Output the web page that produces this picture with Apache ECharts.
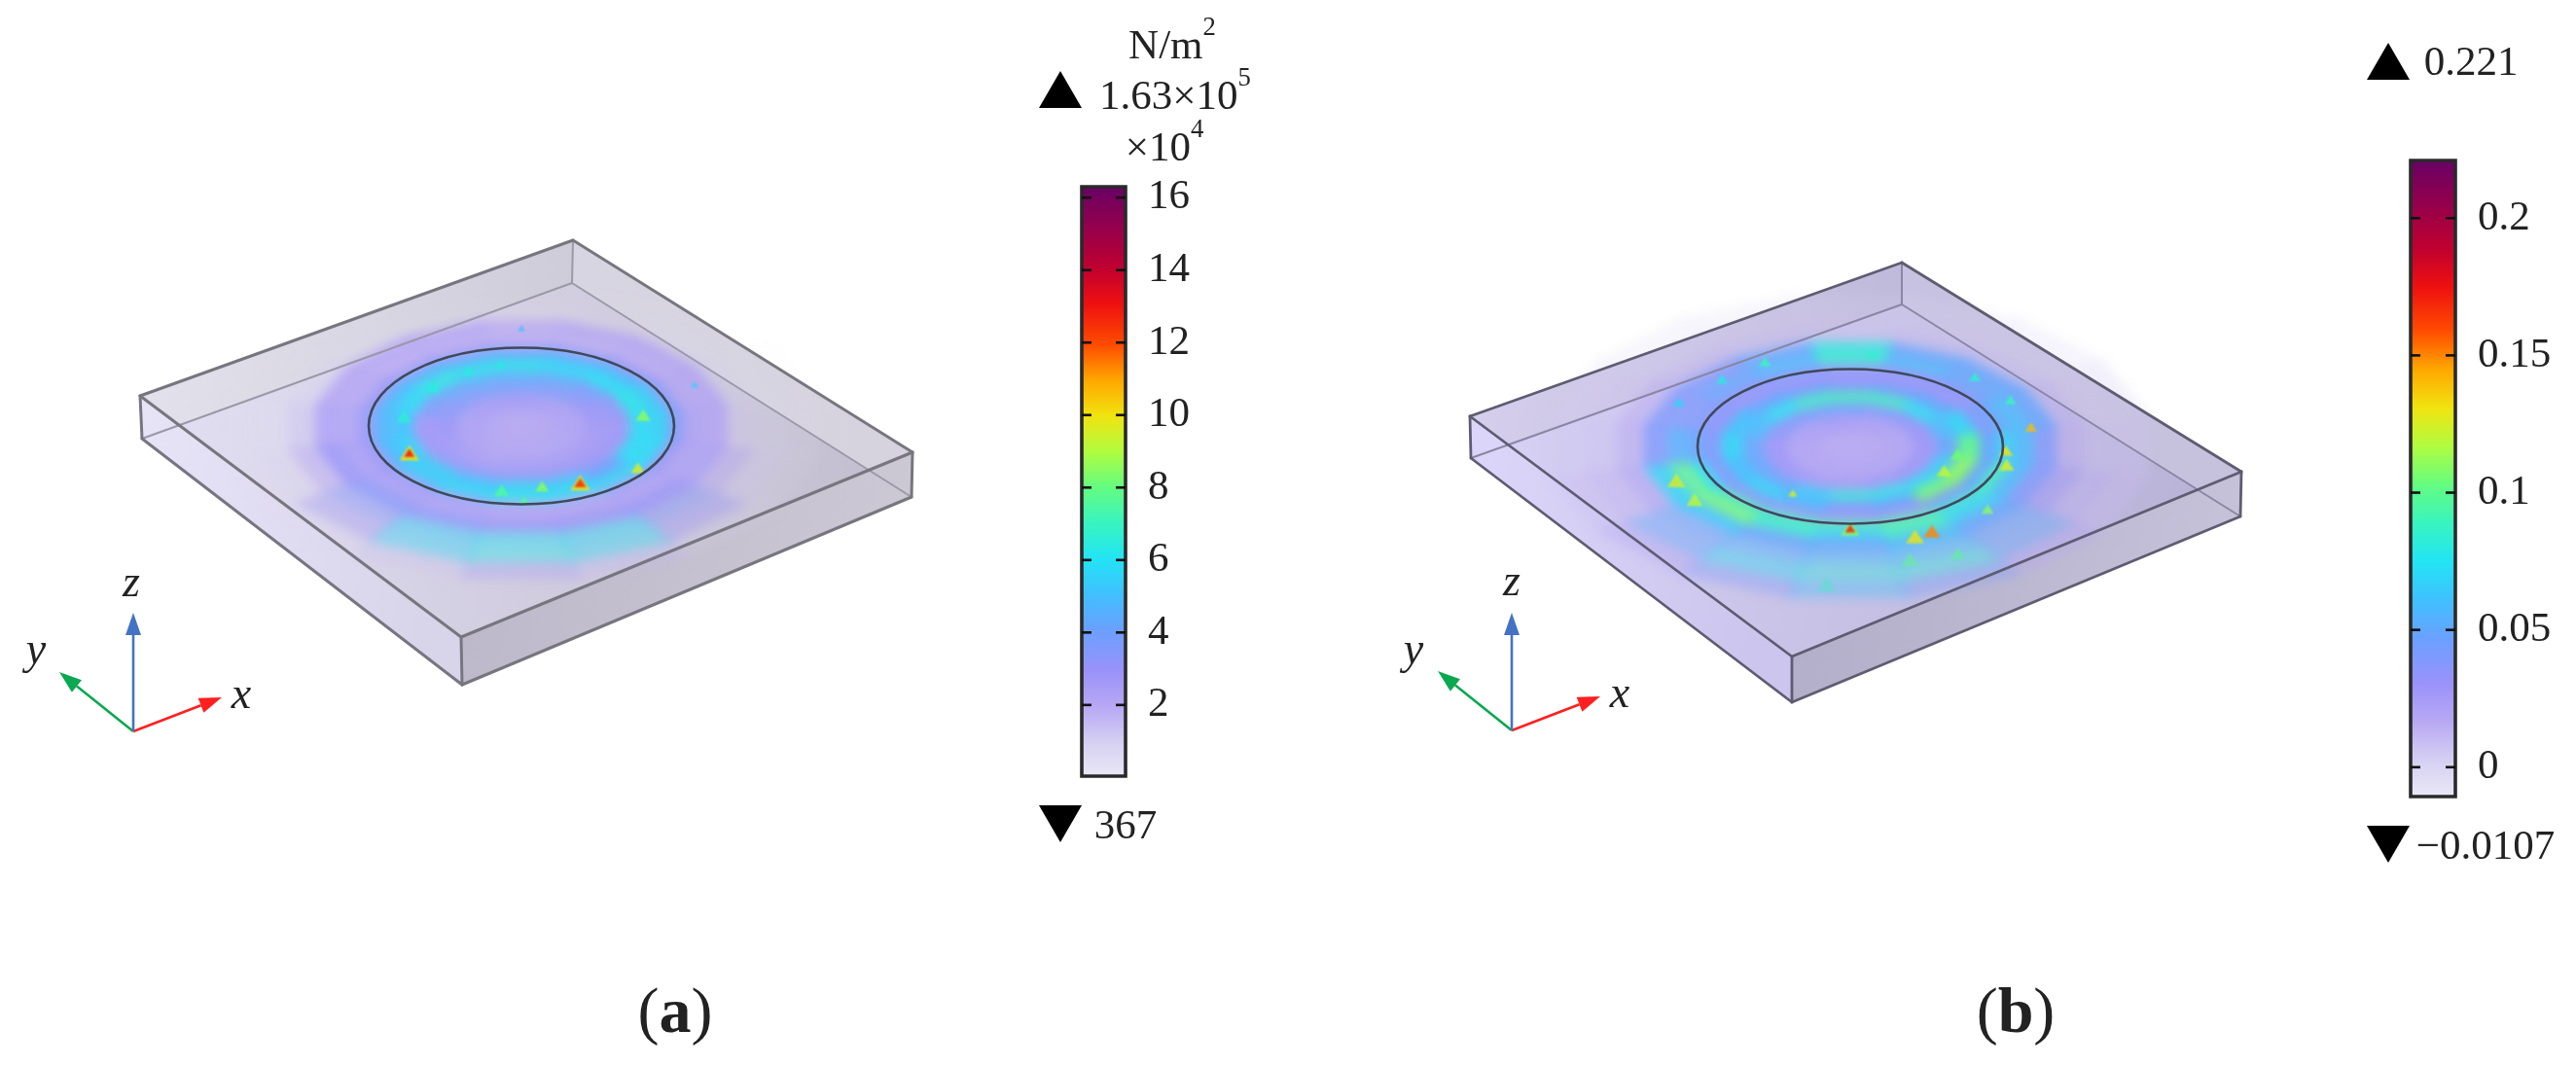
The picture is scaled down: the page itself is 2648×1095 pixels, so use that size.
<!DOCTYPE html>
<html lang="en">
<head>
    <meta charset="UTF-8">
    <title>Plate stress and strain</title>
    <style>
        html, body { margin: 0; background: #fff; }
        .layer { position: absolute; left: 0; top: 0; width: 2648px; height: 1095px; }
        #field { filter: blur(6px); }
        #facets { filter: blur(1.2px); }
        #front { filter: blur(0.6px); }
    </style>
</head>
<body>
<div id="plate" class="layer"></div>
<div id="field" class="layer"></div>
<div id="facets" class="layer"></div>
<div id="front" class="layer"></div>
<script src="https://cdn.jsdelivr.net/npm/echarts@6/dist/echarts.min.js"></script>
<script type="text/javascript">
    // box corners: top A B C D, then bottom A B C D
    const cornersA = [[144, 407], [589, 247], [938, 465], [474, 655], [146, 451], [588, 291], [937, 511], [475, 704]];
    const cornersB = [[1511, 428], [1955, 270], [2304, 485], [1842, 675], [1512, 471], [1955, 313], [2303, 531], [1842, 722]];
    const strongEdges = [[0, 1], [1, 2], [2, 3], [3, 0], [0, 4], [3, 7], [2, 6], [4, 7], [7, 6]];
    const softEdges = [[4, 5], [5, 6], [1, 5]];

    // ring centre and half axes
    const ringA = [536, 438, 157, 80.5];
    const ringB = [1902, 459, 157, 79.5];

    // field rows: radius in ring units, angle counter clockwise from the right
    const rowEdges = [0, 0.22, 0.42, 0.58, 0.72, 0.86, 0.98, 1.08, 1.22, 1.38, 1.56, 1.78, 2.0];
    const sectorAngles = [0, 22.5, 45, 67.5, 90, 112.5, 135, 157.5, 180, 202.5, 225, 247.5, 270, 292.5, 315, 337.5];
    const rowOpacity = [0.85, 0.85, 0.85, 0.85, 0.9, 0.9, 0.85, 0.8, 0.8, 0.5, 0.42, 0.38];

    // (a) stress, x 10^4 N/m2
    const stressField = [
        [2.2, 2.2, 2.2, 2.2, 2.2, 2.2, 2.2, 2.2, 2.2, 2.2, 2.2, 2.2, 2.2, 2.2, 2.2, 2.2],
        [2.4, 2.4, 2.5, 2.6, 2.7, 2.7, 2.6, 2.5, 2.4, 2.4, 2.3, 2.2, 2.2, 2.2, 2.3, 2.3],
        [2.8, 3.0, 3.4, 3.7, 3.8, 3.8, 3.6, 3.4, 3.0, 2.8, 2.6, 2.5, 2.6, 2.6, 2.6, 2.7],
        [2.9, 3.3, 4.0, 4.4, 4.6, 4.6, 4.4, 3.8, 2.9, 2.9, 3.1, 3.2, 3.2, 3.1, 3.0, 2.9],
        [5.8, 6.2, 6.0, 5.8, 6.2, 6.2, 6.4, 5.8, 5.2, 5.6, 5.4, 5.2, 5.6, 5.4, 4.2, 5.8],
        [5.6, 5.4, 5.0, 4.8, 4.6, 4.6, 4.8, 4.9, 4.8, 5.0, 5.4, 5.8, 6.2, 6.0, 5.8, 5.8],
        [3.6, 3.4, 3.0, 2.8, 2.6, 2.6, 2.8, 3.0, 3.2, 3.0, 2.8, 2.6, 2.2, 2.2, 2.6, 3.0],
        [2.4, 2.2, 2.0, 1.9, 1.9, 2.0, 2.0, 2.2, 2.4, 2.6, 2.6, 2.4, 2.4, 2.4, 2.4, 2.4],
        [2.2, 2.2, 2.2, 2.2, 2.0, 2.2, 2.2, 2.2, 2.4, 3.0, 3.4, 3.2, 3.0, 3.0, 3.0, 2.4],
        [1.2, 1.0, 0.8, 0.5, 0.3, 0.4, 0.7, 1.0, 1.4, 2.0, 3.4, 5.4, 5.8, 5.6, 3.4, 2.0],
        [0.6, 0.5, 0.3, 0.2, 0.1, 0.1, 0.2, 0.3, 0.5, 0.9, 2.6, 5.6, 6.2, 5.8, 2.8, 1.2],
        [0.4, 0.2, 0.1, 0.1, 0.1, 0.1, 0.1, 0.1, 0.2, 0.4, 0.6, 1.4, 2.4, 1.6, 0.6, 0.4]
    ];
    // (b) strain
    const strainField = [
        [0.018, 0.018, 0.018, 0.018, 0.018, 0.018, 0.018, 0.018, 0.018, 0.018, 0.018, 0.018, 0.018, 0.018, 0.018, 0.018],
        [0.02, 0.02, 0.022, 0.024, 0.026, 0.026, 0.024, 0.022, 0.02, 0.02, 0.02, 0.02, 0.02, 0.02, 0.02, 0.02],
        [0.03, 0.032, 0.036, 0.04, 0.046, 0.046, 0.04, 0.036, 0.03, 0.03, 0.028, 0.026, 0.026, 0.028, 0.03, 0.03],
        [0.05, 0.06, 0.075, 0.088, 0.09, 0.088, 0.075, 0.06, 0.05, 0.05, 0.05, 0.065, 0.082, 0.078, 0.07, 0.066],
        [0.1, 0.07, 0.05, 0.045, 0.04, 0.045, 0.05, 0.062, 0.07, 0.062, 0.07, 0.06, 0.04, 0.05, 0.105, 0.11],
        [0.05, 0.04, 0.03, 0.03, 0.03, 0.03, 0.03, 0.035, 0.04, 0.04, 0.035, 0.03, 0.03, 0.03, 0.04, 0.05],
        [0.07, 0.05, 0.04, 0.035, 0.035, 0.04, 0.04, 0.04, 0.05, 0.075, 0.09, 0.09, 0.095, 0.095, 0.085, 0.09],
        [0.06, 0.06, 0.05, 0.06, 0.085, 0.06, 0.05, 0.04, 0.055, 0.1, 0.105, 0.085, 0.07, 0.09, 0.07, 0.06],
        [0.04, 0.05, 0.05, 0.05, 0.08, 0.05, 0.04, 0.04, 0.04, 0.07, 0.065, 0.05, 0.05, 0.06, 0.05, 0.04],
        [0.016, 0.014, 0.01, 0.01, 0.008, 0.01, 0.012, 0.016, 0.018, 0.024, 0.05, 0.055, 0.06, 0.06, 0.05, 0.03],
        [0.008, 0.006, 0.004, 0.003, 0.003, 0.003, 0.004, 0.006, 0.008, 0.014, 0.05, 0.072, 0.08, 0.08, 0.05, 0.016],
        [0.008, 0.006, 0.003, 0.002, 0.002, 0.002, 0.002, 0.003, 0.006, 0.01, 0.02, 0.04, 0.06, 0.045, 0.02, 0.01]
    ];

    // sharp mesh facets: radius, angle, value, size
    const facetsA = [
        [0.81, 205, 10, 0.065], [0.81, 205, 13, 0.035], [0.82, 298, 10, 0.065], [0.82, 298, 12.5, 0.04],
        [0.93, 325, 9.5, 0.045], [0.78, 280, 8.5, 0.045], [0.83, 261, 7.5, 0.05], [0.95, 271, 7.5, 0.035],
        [0.81, 10, 8.5, 0.05], [0.78, 171, 6.6, 0.05], [0.8, 100, 6.4, 0.035], [0.77, 139, 6.4, 0.05],
        [0.79, 116, 6.4, 0.04], [1.25, 25, 5.6, 0.025], [1.25, 90, 5, 0.025]
    ];
    const facetsB = [
        [1.06, 270, 0.11, 0.06], [1.06, 270, 0.17, 0.035], [1.22, 296, 0.15, 0.055], [1.24, 290, 0.13, 0.06],
        [1.22, 201, 0.125, 0.06], [1.23, 214, 0.12, 0.055], [1.02, 357, 0.13, 0.045], [1.05, 347, 0.125, 0.05],
        [1.21, 12, 0.14, 0.04], [0.69, 333, 0.12, 0.05], [0.71, 352, 0.105, 0.05], [0.71, 238, 0.125, 0.03],
        [1.21, 318, 0.11, 0.04], [1.51, 285, 0.1, 0.06], [1.55, 297, 0.1, 0.05], [1.79, 265, 0.09, 0.06],
        [1.21, 83, 0.085, 0.04], [1.23, 117, 0.09, 0.04], [1.21, 134, 0.08, 0.04], [1.22, 48, 0.085, 0.04],
        [1.21, 30, 0.09, 0.04], [1.26, 153, 0.07, 0.04]
    ];

    // colour scale, fraction of the bar then colour
    const scalePositions = [0, 0.06, 0.12, 0.18, 0.25, 0.31, 0.37, 0.43, 0.49, 0.55, 0.61, 0.67, 0.73, 0.8, 0.86, 0.93, 1];
    const scaleColors = [
        [235, 233, 246], [213, 208, 242], [184, 168, 244], [154, 146, 250], [106, 160, 255], [64, 192, 255],
        [34, 228, 244], [56, 244, 192], [100, 252, 128], [176, 252, 64], [240, 228, 16], [255, 168, 0],
        [255, 76, 0], [238, 16, 16], [192, 0, 48], [148, 0, 76], [102, 0, 102]
    ];

    const stressTicks = [2, 4, 6, 8, 10, 12, 14, 16];
    const strainTicks = [0, 0.05, 0.1, 0.15, 0.2];
    const stressRange = [0.0367, 16.3];
    const strainRange = [-0.0107, 0.221];

    // triangles beside the bars
    const maxMarkers = [[1090, 92], [2455, 63]];
    const minMarkers = [[1090, 847], [2455, 868]];

    // triads: origin, then x, y and z tips
    const triadA = [[137, 752], [228, 717], [61, 691], [137, 630]];
    const triadB = [[1554, 751], [1645, 716], [1478, 690], [1554, 630]];
    const triadColors = ['#ff1f1f', '#0aa850', '#4472c4'];

    const serif = '"Liberation Serif", serif';

    function polar(ring, r, deg) {
        const t = deg * Math.PI / 180;
        return [ring[0] + r * ring[2] * Math.cos(t), ring[1] - r * ring[3] * Math.sin(t)];
    }

    function scaleColor(f, alpha) {
        f = Math.max(0, Math.min(1, f));
        let i = 0;
        while (i < scalePositions.length - 2 && f > scalePositions[i + 1]) i++;
        const k = (f - scalePositions[i]) / (scalePositions[i + 1] - scalePositions[i]);
        const c = scaleColors[i].map((v, j) => Math.round(v + (scaleColors[i + 1][j] - v) * k));
        return 'rgba(' + c[0] + ',' + c[1] + ',' + c[2] + ',' + alpha + ')';
    }

    function fraction(v, range) {
        return (v - range[0]) / (range[1] - range[0]);
    }

    function opacityAt(r) {
        let i = 0;
        while (i < rowOpacity.length - 1 && r > rowEdges[i + 1]) i++;
        return rowOpacity[i];
    }

    const viewAxes = {
        grid: {left: 0, right: 0, top: 0, bottom: 0},
        xAxis: {type: 'value', min: 0, max: 2648, show: false},
        yAxis: {type: 'value', min: 0, max: 1095, inverse: true, show: false}
    };

    function faceSeries(corners, faces) {
        return {
            type: 'custom',
            coordinateSystem: 'cartesian2d',
            silent: true,
            encode: {x: -1, y: -1},
            data: faces.map((f, i) => [i]),
            renderItem: (params, api) => {
                const f = faces[params.dataIndex];
                return {
                    type: 'polygon',
                    shape: {points: f[0].map(i => api.coord(corners[i]))},
                    style: {fill: new echarts.graphic.LinearGradient(0, 0, 1, 0.3, [
                        {offset: 0, color: f[1]}, {offset: 1, color: f[2]}
                    ])}
                };
            }
        };
    }

    function fieldSeries(ring, table, range) {
        const data = [];
        table.forEach((row, i) => row.forEach((v, j) => data.push([i, j, v])));
        return {
            type: 'custom',
            coordinateSystem: 'cartesian2d',
            silent: true,
            clip: false,
            encode: {x: -1, y: -1},
            data: data,
            renderItem: (params, api) => {
                const i = api.value(0), j = api.value(1), v = api.value(2);
                const a0 = sectorAngles[j] - 11.6, a1 = sectorAngles[j] + 11.6;
                const r0 = rowEdges[i], r1 = rowEdges[i + 1];
                const pts = [[r0, a0], [r1, a0], [r1, a1], [r0, a1]].map(p => api.coord(polar(ring, p[0], p[1])));
                const f = fraction(v, range);
                const alpha = rowOpacity[i] * Math.min(1, f / 0.1);
                return {type: 'polygon', shape: {points: pts}, style: {fill: scaleColor(f, alpha)}};
            }
        };
    }

    function facetSeries(ring, facets, range) {
        return {
            type: 'custom',
            coordinateSystem: 'cartesian2d',
            silent: true,
            clip: false,
            encode: {x: -1, y: -1},
            data: facets,
            renderItem: (params, api) => {
                const r = api.value(0), deg = api.value(1), v = api.value(2), s = api.value(3);
                const c = polar(ring, r, deg);
                const w = s * ring[2], h = s * ring[3] * 1.5;
                const pts = [[c[0], c[1] - h], [c[0] + w, c[1] + h], [c[0] - w, c[1] + h]].map(p => api.coord(p));
                return {
                    type: 'polygon',
                    shape: {points: pts},
                    style: {fill: scaleColor(fraction(v, range), Math.min(0.85, opacityAt(r)))}
                };
            }
        };
    }

    function edgeSeries(corners, edges, color, width, z) {
        return {
            type: 'custom',
            coordinateSystem: 'cartesian2d',
            silent: true,
            data: edges,
            z: z,
            encode: {x: -1, y: -1},
            renderItem: (params, api) => {
                const a = api.coord(corners[api.value(0)]), b = api.coord(corners[api.value(1)]);
                return {
                    type: 'line',
                    shape: {x1: a[0], y1: a[1], x2: b[0], y2: b[1]},
                    style: {stroke: color, lineWidth: width, lineCap: 'round'}
                };
            }
        };
    }

    function ringSeries(ring) {
        return {
            type: 'custom',
            coordinateSystem: 'cartesian2d',
            silent: true,
            data: [[ring[0], ring[1]]],
            z: 4,
            renderItem: (params, api) => {
                const c = api.coord([api.value(0), api.value(1)]);
                return {
                    type: 'ellipse',
                    shape: {cx: c[0], cy: c[1], rx: ring[2], ry: ring[3]},
                    style: {fill: 'none', stroke: '#43475a', lineWidth: 2.6}
                };
            }
        };
    }

    function triadSeries(triad) {
        return {
            type: 'custom',
            coordinateSystem: 'cartesian2d',
            silent: true,
            data: triad.slice(1),
            z: 4,
            renderItem: (params, api) => {
                const o = api.coord(triad[0]), t = api.coord([api.value(0), api.value(1)]);
                const color = triadColors[params.dataIndex];
                const len = Math.hypot(t[0] - o[0], t[1] - o[1]);
                const ux = (t[0] - o[0]) / len, uy = (t[1] - o[1]) / len;
                const bx = t[0] - ux * 23, by = t[1] - uy * 23;
                return {
                    type: 'group',
                    children: [{
                        type: 'line',
                        shape: {x1: o[0], y1: o[1], x2: bx, y2: by},
                        style: {stroke: color, lineWidth: 2.6}
                    }, {
                        type: 'polygon',
                        shape: {points: [t, [bx - uy * 8, by + ux * 8], [bx + uy * 8, by - ux * 8]]},
                        style: {fill: color}
                    }]
                };
            }
        };
    }

    function barGradient() {
        const stops = scalePositions.map((p, i) => ({offset: 1 - p, color: scaleColor(p, 1)}));
        return new echarts.graphic.LinearGradient(0, 0, 0, 1, stops.reverse());
    }

    function barAxis(range, ticks, gridIndex) {
        return {
            type: 'value',
            gridIndex: gridIndex,
            min: range[0],
            max: range[1],
            position: 'right',
            axisLine: {show: false},
            splitLine: {show: false},
            axisTick: {show: false},
            axisLabel: {
                customValues: ticks,
                margin: 23,
                color: '#222',
                fontFamily: serif,
                fontSize: 43
            }
        };
    }

    function barSeries(range, axisIndex) {
        return {
            type: 'custom',
            coordinateSystem: 'cartesian2d',
            xAxisIndex: axisIndex,
            yAxisIndex: axisIndex,
            silent: true,
            data: [[0, range[0], 1, range[1]]],
            z: 3,
            renderItem: (params, api) => {
                const a = api.coord([api.value(0), api.value(3)]), b = api.coord([api.value(2), api.value(1)]);
                return {
                    type: 'rect',
                    shape: {x: a[0], y: a[1], width: b[0] - a[0], height: b[1] - a[1]},
                    style: {fill: barGradient(), stroke: '#2a2a2a', lineWidth: 3.6}
                };
            }
        };
    }

    // short ticks on both inner sides of a bar
    function barTickSeries(ticks, axisIndex) {
        return {
            type: 'custom',
            coordinateSystem: 'cartesian2d',
            xAxisIndex: axisIndex,
            yAxisIndex: axisIndex,
            silent: true,
            encode: {y: 0, x: -1},
            data: ticks.map(t => [t]),
            z: 4,
            renderItem: (params, api) => {
                const l = api.coord([0, api.value(0)]), r = api.coord([1, api.value(0)]);
                const tick = (x1, x2) => ({
                    type: 'line',
                    shape: {x1: x1, y1: l[1], x2: x2, y2: l[1]},
                    style: {stroke: '#111', lineWidth: 2.6}
                });
                return {type: 'group', children: [tick(l[0], l[0] + 10), tick(r[0] - 10, r[0])]};
            }
        };
    }

    function label(x, y, text, size, extra) {
        return {
            type: 'text',
            x: x,
            y: y,
            z: 20,
            style: Object.assign({
                text: text,
                fill: '#222',
                font: size + 'px ' + serif,
                align: 'center',
                verticalAlign: 'middle',
                textAlign: 'center',
                textVerticalAlign: 'middle'
            }, extra || {})
        };
    }

    function withSup(x, y, text, size) {
        return label(x, y, text, size, {
            rich: {
                b: {fontFamily: serif, fontSize: size, fill: '#222', color: '#222', verticalAlign: 'bottom', lineHeight: size + 12},
                s: {fontFamily: serif, fontSize: size * 0.62, fill: '#222', color: '#222', verticalAlign: 'top', lineHeight: size + 12}
            }
        });
    }

    function axisName(x, y, text) {
        return label(x, y, text, 46, {font: 'italic 46px ' + serif});
    }

    function captionLetter(x, y, letter) {
        return label(x, y, '{p|(}{a|' + letter + '}{p|)}', 66, {
            rich: {
                p: {fontFamily: serif, fontSize: 66, fill: '#222', color: '#222'},
                a: {fontFamily: serif, fontSize: 66, fontWeight: 'bold', fill: '#222', color: '#222'}
            }
        });
    }

    const facesA = [
        [[0, 1, 5, 4], '#e4e2ec', '#cfccda'],
        [[1, 2, 6, 5], '#d8d5e2', '#d6d3de'],
        [[4, 5, 6, 7], '#e4e0f4', '#c2becf'],
        [[0, 3, 7, 4], '#e8e4f8', '#d8d4ea'],
        [[3, 2, 6, 7], '#bcb8ca', '#ccc8d4']
    ];
    const facesB = [
        [[0, 1, 5, 4], '#d6d0ee', '#bfb9da'],
        [[1, 2, 6, 5], '#c8c2e2', '#c6c1dc'],
        [[4, 5, 6, 7], '#d8d2f6', '#b8b2d6'],
        [[0, 3, 7, 4], '#dcd6fa', '#ccc6ee'],
        [[3, 2, 6, 7], '#b2adc8', '#c6c2da']
    ];

    const plateChart = echarts.init(document.getElementById('plate'));
    plateChart.setOption(Object.assign({
        animation: false,
        series: [faceSeries(cornersA, facesA), faceSeries(cornersB, facesB)]
    }, viewAxes));

    const fieldChart = echarts.init(document.getElementById('field'));
    fieldChart.setOption(Object.assign({
        animation: false,
        series: [fieldSeries(ringA, stressField, stressRange), fieldSeries(ringB, strainField, strainRange)]
    }, viewAxes));

    const facetChart = echarts.init(document.getElementById('facets'));
    facetChart.setOption(Object.assign({
        animation: false,
        series: [facetSeries(ringA, facetsA, stressRange), facetSeries(ringB, facetsB, strainRange)]
    }, viewAxes));

    const frontChart = echarts.init(document.getElementById('front'));
    frontChart.setOption({
        animation: false,
        grid: [
            {left: 0, right: 0, top: 0, bottom: 0},
            {left: 1112, top: 192, width: 45, height: 606},
            {left: 2478, top: 165, width: 46, height: 654}
        ],
        xAxis: [
            {type: 'value', min: 0, max: 2648, show: false, gridIndex: 0},
            {type: 'value', min: 0, max: 1, show: false, gridIndex: 1},
            {type: 'value', min: 0, max: 1, show: false, gridIndex: 2}
        ],
        yAxis: [
            {type: 'value', min: 0, max: 1095, inverse: true, show: false, gridIndex: 0},
            barAxis(stressRange, stressTicks, 1),
            barAxis(strainRange, strainTicks, 2)
        ],
        series: [
            edgeSeries(cornersA, softEdges, '#9b98a8', 2, 2),
            edgeSeries(cornersB, softEdges, '#8a86a4', 2, 2),
            edgeSeries(cornersA, strongEdges, '#77767f', 3, 3),
            edgeSeries(cornersB, strongEdges, '#5e5c70', 2.8, 3),
            ringSeries(ringA),
            ringSeries(ringB),
            triadSeries(triadA),
            triadSeries(triadB),
            barSeries(stressRange, 1),
            barSeries(strainRange, 2),
            barTickSeries(stressTicks, 1),
            barTickSeries(strainTicks, 2),
            {
                type: 'scatter', silent: true, data: maxMarkers, symbol: 'triangle', symbolSize: [44, 38],
                itemStyle: {color: '#000', opacity: 1}, z: 5
            },
            {
                type: 'scatter', silent: true, data: minMarkers, symbol: 'triangle', symbolSize: [44, 38], symbolRotate: 180,
                itemStyle: {color: '#000', opacity: 1}, z: 5
            }
        ],
        graphic: [
            withSup(1205, 43, '{b|N/m}{s|2}', 43),
            withSup(1208, 95, '{b|1.63×10}{s|5}', 43),
            withSup(1197, 148, '{b|×10}{s|4}', 43),
            label(1157, 851, '367', 43),
            label(2540, 66, '0.221', 43),
            label(2555, 872, '−0.0107', 43),
            axisName(135, 601, 'z'),
            axisName(37, 670, 'y'),
            axisName(248, 716, 'x'),
            axisName(1554, 600, 'z'),
            axisName(1453, 670, 'y'),
            axisName(1665, 715, 'x'),
            captionLetter(694, 1044, 'a'),
            captionLetter(2072, 1044, 'b')
        ]
    });
</script>
</body>
</html>
